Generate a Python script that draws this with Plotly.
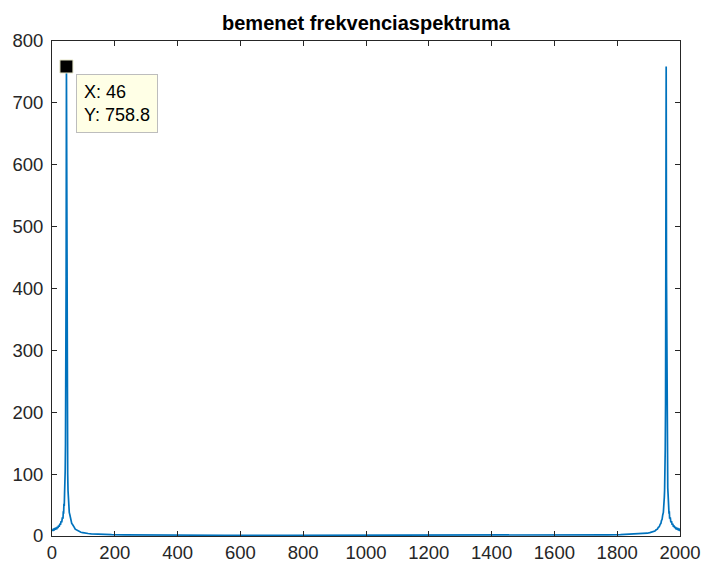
import plotly.graph_objects as go

# Magnitude spectrum samples (bin index, |X|)
left_x = [1, 3, 5, 7, 9, 11, 13, 15, 17, 19, 21, 23, 25, 27, 29, 31, 33, 35,
          36, 37, 38, 39, 40, 41, 42, 43, 44, 45, 46, 47, 48, 49, 50, 51, 52,
          53, 54, 55, 57, 59, 61, 63, 65, 68, 71, 74, 78, 82, 86, 92, 98, 106,
          115, 125, 140]
left_y = [11, 8, 12, 9, 13, 10, 14, 11, 15, 13, 17, 15, 20, 18, 24, 22, 30, 28,
          40, 36, 52, 48, 68, 78, 105, 150, 230, 420, 758.8, 400, 215, 140, 100,
          74, 62, 50, 46, 38, 34, 27, 25, 20, 19, 15, 14, 11, 10, 8, 7.5, 6, 5.5,
          4.5, 4, 3.5, 3]

mid_x = [160, 190, 230, 300, 400, 550, 750, 1000, 1250, 1450, 1600, 1700,
         1770, 1810, 1840]
mid_y = [2.6, 2.2, 1.9, 1.6, 1.4, 1.2, 1.1, 1.0, 1.1, 1.2, 1.4, 1.6, 1.9, 2.2,
         2.6]

right_x = [1862, 1877, 1887, 1896, 1904, 1910, 1916, 1920, 1924, 1928, 1931,
           1934, 1937, 1939, 1941, 1943, 1945, 1947, 1948, 1949, 1950, 1951,
           1952, 1953, 1954, 1955, 1956, 1957, 1958, 1959, 1960, 1961, 1962,
           1963, 1964, 1965, 1966, 1967, 1969, 1971, 1973, 1975, 1977, 1979,
           1981, 1983, 1985, 1987, 1989, 1991, 1993, 1995, 1997, 1999, 2000]
right_y = [3, 3.5, 4, 4.5, 5.5, 6, 7.5, 8, 10, 11, 14, 15, 19, 20, 25, 27, 34,
           38, 46, 50, 62, 74, 100, 140, 215, 400, 758.8, 420, 230, 150, 105,
           78, 68, 48, 52, 36, 40, 28, 30, 22, 24, 18, 20, 15, 17, 13, 15, 11,
           14, 10, 13, 9, 12, 8, 11]

x_vals = left_x + mid_x + right_x
y_vals = left_y + mid_y + right_y

# Data tip
tip_x = 46
tip_y = 758.8

x_ticks = list(range(0, 2001, 200))
y_ticks = list(range(0, 801, 100))

axis_color = "#262626"
font_family = "Liberation Sans, Arial, Helvetica, sans-serif"

fig = go.Figure()
fig.add_trace(go.Scatter(
    x=x_vals, y=y_vals, mode="lines",
    line=dict(color="#0072BD", width=1.7),
    hoverinfo="skip", showlegend=False,
))
fig.add_trace(go.Scatter(
    x=[tip_x], y=[tip_y], mode="markers",
    marker=dict(symbol="square", size=13, color="black",
                line=dict(color="#e6e6c8", width=1)),
    hoverinfo="skip", showlegend=False,
))

fig.add_annotation(
    x=tip_x, y=tip_y, xref="x", yref="y",
    text=f"X: {tip_x}<br>Y: {tip_y}",
    showarrow=False, xanchor="left", yanchor="top",
    xshift=10, yshift=-8, align="left",
    font=dict(family=font_family, size=18, color="black"),
    bgcolor="#ffffe6", bordercolor="#bdbdbd", borderwidth=1, borderpad=7,
)

axis_common = dict(
    showgrid=False, zeroline=False, automargin=False,
    showline=True, linecolor=axis_color, linewidth=1, mirror="ticks",
    ticks="inside", ticklen=5, tickwidth=1, tickcolor=axis_color,
    tickfont=dict(family=font_family, size=18.5, color=axis_color),
)

fig.update_xaxes(range=[0, 2000], tickvals=x_ticks,
                 ticktext=[str(v) for v in x_ticks], **axis_common)
fig.update_yaxes(range=[0, 800], tickvals=y_ticks,
                 ticktext=[str(v) for v in y_ticks], ticklabelstandoff=4,
                 **axis_common)

fig.update_layout(
    width=704, height=569,
    margin=dict(l=52, r=24, t=41, b=33, pad=0),
    paper_bgcolor="white", plot_bgcolor="white",
    title=dict(
        text="bemenet frekvenciaspektruma",
        x=(52 + 680) / 2 / 704, xanchor="center",
        y=1 - 23 / 569, yanchor="middle",
        font=dict(family=font_family, size=20, color="black", weight="bold"),
    ),
)

fig.write_html("out.html")
